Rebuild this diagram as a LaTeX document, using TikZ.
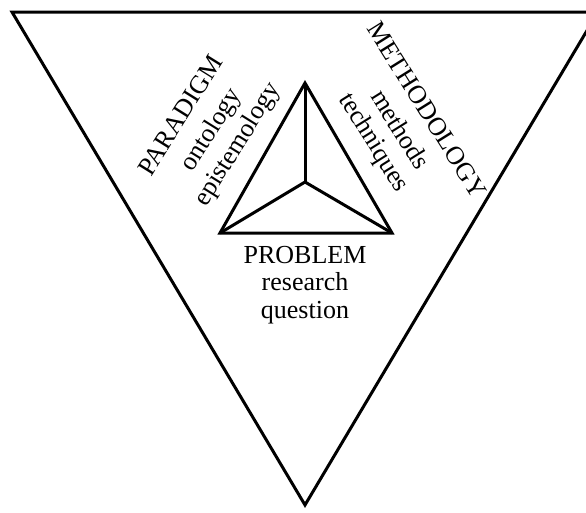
\documentclass[tikz,border=0pt]{standalone}
\usepackage{fontspec}
\setmainfont{Liberation Serif}
\usepackage{tikz}

\begin{document}
\begin{tikzpicture}[x=1pt,y=-1pt,every node/.style={inner sep=0pt,font=\fontsize{26}{27.5}\selectfont},edge/.style={line width=3pt,line join=miter},lefttext/.style={rotate=58},righttext/.style={rotate=-58}]
	
	\useasboundingbox (0,0) rectangle (586,512);
	
	% outer triangle
	\coordinate (topleft) at (12,12);
	\coordinate (topright) at (598,12);
	\coordinate (bottom) at (305,505);
	\draw[edge] (topleft) -- (topright) -- (bottom) -- cycle;
	
	% inner triangle
	\coordinate (apex) at (305,83);
	\coordinate (baseleft) at (220,233);
	\coordinate (baseright) at (392,233);
	\coordinate (mid) at (305,182);
	\draw[edge] (apex) -- (baseleft) -- (baseright) -- cycle;
	\draw[edge] (apex) -- (mid);
	\draw[edge] (baseleft) -- (mid) -- (baseright);
	
	\node[align=center] (problem) at (305,285) {PROBLEM\\research\\question};
	
	\node[lefttext] (paradigm) at (180,115) {PARADIGM};
	\node[lefttext] (ontology) at (212,130) {ontology};
	\node[lefttext] (epistemology) at (238,145) {epistemology};
	
	\node[righttext] (methodology) at (427,110) {METHODOLOGY};
	\node[righttext] (methods) at (401,129) {methods};
	\node[righttext] (techniques) at (373,143) {techniques};
	
\end{tikzpicture}
\end{document}
